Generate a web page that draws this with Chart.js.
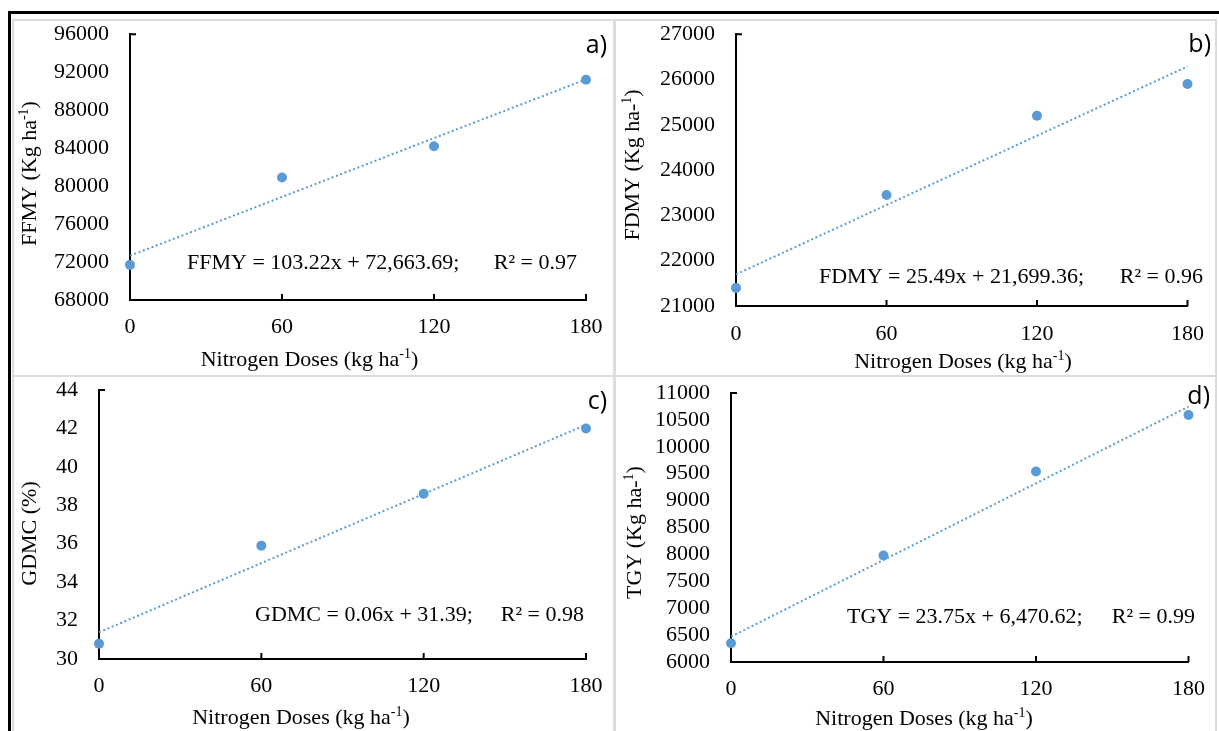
<!DOCTYPE html>
<html><head><meta charset="utf-8">
<script src="https://cdn.jsdelivr.net/npm/chart.js@4.4.0/dist/chart.umd.min.js"></script>
<style>
html,body{margin:0;padding:0;background:#fff;}
body{width:1219px;height:731px;position:relative;overflow:hidden;}
canvas{position:absolute;left:0;top:0;width:1219px;height:731px;}
.ln{position:absolute;}
</style></head><body>
<div class="ln" style="left:12px;top:19px;width:1205px;height:2px;background:#dcdcdc"></div>
<div class="ln" style="left:12px;top:19px;width:2px;height:712px;background:#dcdcdc"></div>
<div class="ln" style="left:613px;top:19px;width:3px;height:712px;background:#dcdcdc"></div>
<div class="ln" style="left:12px;top:375px;width:1205px;height:2px;background:#dcdcdc"></div>
<div class="ln" style="left:1215px;top:19px;width:2px;height:712px;background:#dcdcdc"></div>
<div class="ln" style="left:8px;top:11px;width:1211px;height:3px;background:#000"></div>
<div class="ln" style="left:8px;top:11px;width:3px;height:720px;background:#000"></div>
<canvas id="ca" width="1219" height="731"></canvas>
<canvas id="cb" width="1219" height="731"></canvas>
<canvas id="cc" width="1219" height="731"></canvas>
<canvas id="cd" width="1219" height="731"></canvas>
<script>
// ---------- data ----------
const doses = [0, 60, 120, 180];
const ffmy = [71700, 80900, 84200, 91200];
const fdmy = [21400, 23450, 25200, 25900];
const gdmc = [30.8, 35.9, 38.6, 42.0];
const tgy  = [6350, 7980, 9540, 10590];

const trendX = [0, 180];
const trendFFMY = [72664, 91243];
const trendFDMY = [21699, 26288];
const trendGDMC = [31.39, 42.19];
const trendTGY  = [6471, 10746];

const yTicksFFMY = [68000, 96000, 4000];
const yTicksFDMY = [21000, 27000, 1000];
const yTicksGDMC = [30, 44, 2];
const yTicksTGY  = [6000, 11000, 500];
const xTicks = [0, 180, 60];

const eqFFMY = ['FFMY = 103.22x + 72,663.69;', 'R² = 0.97'];
const eqFDMY = ['FDMY = 25.49x + 21,699.36;', 'R² = 0.96'];
const eqGDMC = ['GDMC = 0.06x + 31.39;', 'R² = 0.98'];
const eqTGY  = ['TGY = 23.75x + 6,470.62;', 'R² = 0.99'];

const xTitle = [{t:'Nitrogen Doses (kg ha'},{t:'-1',sup:true},{t:')'}];
const yTitleFFMY = [{t:'FFMY (Kg ha'},{t:'-1',sup:true},{t:')'}];
const yTitleFDMY = [{t:'FDMY (Kg ha-'},{t:'1',sup:true},{t:')'}];
const yTitleGDMC = [{t:'GDMC (%)'}];
const yTitleTGY  = [{t:'TGY (Kg ha-'},{t:'1',sup:true},{t:')'}];
const panelLetters = ['a)', 'b)', 'c)', 'd)'];

// ---------- drawing helpers ----------
const SERIF = "'Liberation Serif','Times New Roman',serif";
const SANS = "'Open Sans','Noto Sans',sans-serif";
const BLUE = '#5B9BD5';

function drawRich(ctx, it) {
  const size = it.size, fam = it.family;
  const supSize = Math.round(size * 0.62);
  ctx.save();
  ctx.fillStyle = '#000';
  ctx.textBaseline = 'alphabetic';
  ctx.textAlign = 'left';
  let w = 0;
  const parts = it.segs.map(s => {
    const sz = s.sup ? supSize : size;
    ctx.font = sz + 'px ' + fam;
    const pw = ctx.measureText(s.t).width;
    const p = {t: s.t, sz, x: w, dy: s.sup ? -size * 0.36 : 0};
    w += pw;
    return p;
  });
  ctx.translate(it.x, it.y);
  if (it.rotate) ctx.rotate(-Math.PI / 2);
  const x0 = it.align === 'center' ? -w / 2 : it.align === 'right' ? -w : 0;
  parts.forEach(p => { ctx.font = p.sz + 'px ' + fam; ctx.fillText(p.t, x0 + p.x, p.dy); });
  ctx.restore();
}

const panelPlugin = {
  id: 'panelText',
  afterDraw(chart, args, opts) {
    const ctx = chart.ctx;
    const xs = chart.scales.x, ys = chart.scales.y;
    const a = chart.chartArea;
    ctx.save();
    ctx.strokeStyle = '#000';
    ctx.lineWidth = 2;
    ctx.beginPath();
    xs.ticks.forEach((t, i) => {
      if (i === 0) return;
      const px = xs.getPixelForValue(t.value);
      ctx.moveTo(px, a.bottom); ctx.lineTo(px, a.bottom - 6);
    });
    const py = ys.getPixelForValue(ys.max);
    ctx.moveTo(a.left, py); ctx.lineTo(a.left + 6, py);
    ctx.stroke();
    ctx.restore();
    (opts.items || []).forEach(it => drawRich(ctx, it));
  }
};
Chart.register(panelPlugin);

// ---------- panels (layout positions) ----------
const panels = [
  {id:'ca', vals:ffmy, trend:trendFFMY, yt:yTicksFFMY, eq:eqFFMY, ytitle:yTitleFFMY, letter:panelLetters[0],
   area:{l:130,r:586,t:33,b:300}, xpad:14,
   ytPos:{x:36,y:173.5}, xtPos:{x:309.5,y:366}, eqPos:{l:187,r:577,y:269}, letPos:{x:607,y:52.5}},
  {id:'cb', vals:fdmy, trend:trendFDMY, yt:yTicksFDMY, eq:eqFDMY, ytitle:yTitleFDMY, letter:panelLetters[1],
   area:{l:736,r:1190,t:33,b:306}, xpad:15,
   ytPos:{x:639,y:165}, xtPos:{x:963,y:368}, eqPos:{l:819,r:1203,y:283}, letPos:{x:1211,y:51.5}},
  {id:'cc', vals:gdmc, trend:trendGDMC, yt:yTicksGDMC, eq:eqGDMC, ytitle:yTitleGDMC, letter:panelLetters[2],
   area:{l:99,r:586,t:390,b:659}, xpad:14,
   ytPos:{x:36,y:533.5}, xtPos:{x:301,y:724}, eqPos:{l:255,r:584,y:621}, letPos:{x:607,y:409}},
  {id:'cd', vals:tgy, trend:trendTGY, yt:yTicksTGY, eq:eqTGY, ytitle:yTitleTGY, letter:panelLetters[3],
   area:{l:731,r:1190,t:393,b:662}, xpad:14,
   ytPos:{x:641,y:532.5}, xtPos:{x:924,y:725}, eqPos:{l:847,r:1195,y:623}, letPos:{x:1210,y:404}}
];

const YW = 90, XH = 40, W = 1219, H = 731;

panels.forEach(p => {
  const ctx = document.getElementById(p.id).getContext('2d');
  new Chart(ctx, {
    type: 'scatter',
    data: {
      datasets: [
        { data: doses.map((x, i) => ({x, y: p.vals[i]})), backgroundColor: BLUE, borderWidth: 0,
          pointRadius: 5, pointHoverRadius: 5, clip: false },
        { data: trendX.map((x, i) => ({x, y: p.trend[i]})), showLine: true, borderColor: BLUE,
          borderWidth: 2, borderDash: [2, 2.6], pointRadius: 0, fill: false, clip: false }
      ]
    },
    options: {
      responsive: false, animation: false, events: [],
      layout: { padding: { left: p.area.l - YW, top: p.area.t, right: W - p.area.r, bottom: H - p.area.b - XH } },
      plugins: {
        legend: { display: false }, tooltip: { enabled: false },
        panelText: { items: [
          { segs: p.ytitle, x: p.ytPos.x, y: p.ytPos.y, size: 22, family: SERIF, align: 'center', rotate: true },
          { segs: xTitle, x: p.xtPos.x, y: p.xtPos.y, size: 22, family: SERIF, align: 'center' },
          { segs: [{t: p.eq[0]}], x: p.eqPos.l, y: p.eqPos.y, size: 22, family: SERIF, align: 'left' },
          { segs: [{t: p.eq[1]}], x: p.eqPos.r, y: p.eqPos.y, size: 22, family: SERIF, align: 'right' },
          { segs: [{t: p.letter}], x: p.letPos.x, y: p.letPos.y, size: 25, family: SANS, align: 'right' }
        ] }
      },
      scales: {
        x: {
          type: 'linear', min: xTicks[0], max: xTicks[1],
          ticks: { stepSize: xTicks[2], color: '#000', font: { family: SERIF, size: 22 }, padding: p.xpad,
                   callback: v => String(v), maxRotation: 0, autoSkip: false },
          grid: { drawOnChartArea: false, drawTicks: false },
          border: { display: true, color: '#000', width: 2 },
          afterFit(s) { s.height = XH; }
        },
        y: {
          type: 'linear', min: p.yt[0], max: p.yt[1],
          ticks: { stepSize: p.yt[2], color: '#000', font: { family: SERIF, size: 22 }, padding: 21,
                   callback: v => String(v), autoSkip: false },
          grid: { drawOnChartArea: false, drawTicks: false },
          border: { display: true, color: '#000', width: 2 },
          afterFit(s) { s.width = YW; }
        }
      }
    }
  });
});
</script>
</body></html>
